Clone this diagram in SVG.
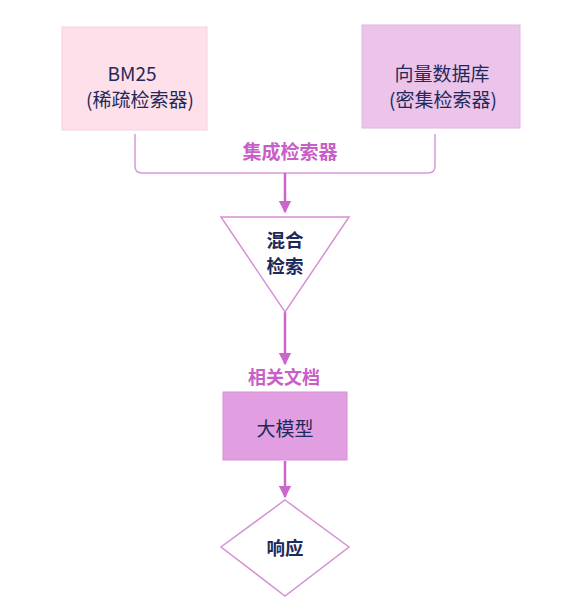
<svg xmlns="http://www.w3.org/2000/svg" width="577" height="610" viewBox="0 0 577 610">
<style>
.lbl{font-family:"Noto Sans CJK SC","Liberation Sans",sans-serif;font-size:19px;fill:#1f2a5a;text-anchor:middle;dominant-baseline:central}
.b{font-weight:bold;font-size:18.5px}
.pl{font-family:"Noto Sans CJK SC","Liberation Sans",sans-serif;font-weight:bold;fill:#c85ec8;text-anchor:middle;dominant-baseline:central}
.arrow{stroke:#cc66cc;stroke-width:2.5;fill:none}
.brk{stroke:#d69ad8;stroke-width:1.5;fill:none}
.shape{fill:#ffffff;stroke:#d690d6;stroke-width:1.5}
</style>
<defs>
<marker id="ah" viewBox="0 0 10 10" refX="9" refY="5" markerWidth="5" markerHeight="5" orient="auto">
<path d="M0,0 L10,5 L0,10 z" fill="#cc66cc"/>
</marker>
</defs>
<rect width="577" height="610" fill="#ffffff"/>
<g id="connectors">
<path class="brk" d="M135,134 V166 Q135,173 142,173 H428 Q435,173 435,166 V134"/>
<line class="arrow" x1="285" y1="173" x2="285" y2="212" marker-end="url(#ah)"/>
<line class="arrow" x1="285" y1="312" x2="285" y2="364" marker-end="url(#ah)"/>
<line class="arrow" x1="285" y1="461" x2="285" y2="497" marker-end="url(#ah)"/>
<text class="pl" x="290" y="150" font-size="19">集成检索器</text>
<text class="pl" x="284" y="376" font-size="18">相关文档</text>
</g>
<g id="bm25">
<rect x="62" y="27" width="145" height="103" fill="#fde0ea" stroke="#f7d0df" stroke-width="1"/>
<text class="lbl" x="132" y="72">BM25</text>
<text class="lbl" x="140" y="98">(稀疏检索器)</text>
</g>
<g id="vectordb">
<rect x="362" y="25" width="158" height="103" fill="#ecc4ea" stroke="#e4b4e2" stroke-width="1"/>
<text class="lbl" x="442" y="72">向量数据库</text>
<text class="lbl" x="443" y="98">(密集检索器)</text>
</g>
<g id="hybrid">
<polygon class="shape" points="221,217 349,217 285,312"/>
<text class="lbl b" x="285" y="239">混合</text>
<text class="lbl b" x="285" y="265">检索</text>
</g>
<g id="llm">
<rect x="223" y="392" width="124" height="68" fill="#e19ee0" stroke="#d690d6" stroke-width="1"/>
<text class="lbl" x="285" y="427">大模型</text>
</g>
<g id="response">
<polygon class="shape" points="285,500 349,547 285,596 221,547"/>
<text class="lbl b" x="285" y="547">响应</text>
</g>
</svg>
